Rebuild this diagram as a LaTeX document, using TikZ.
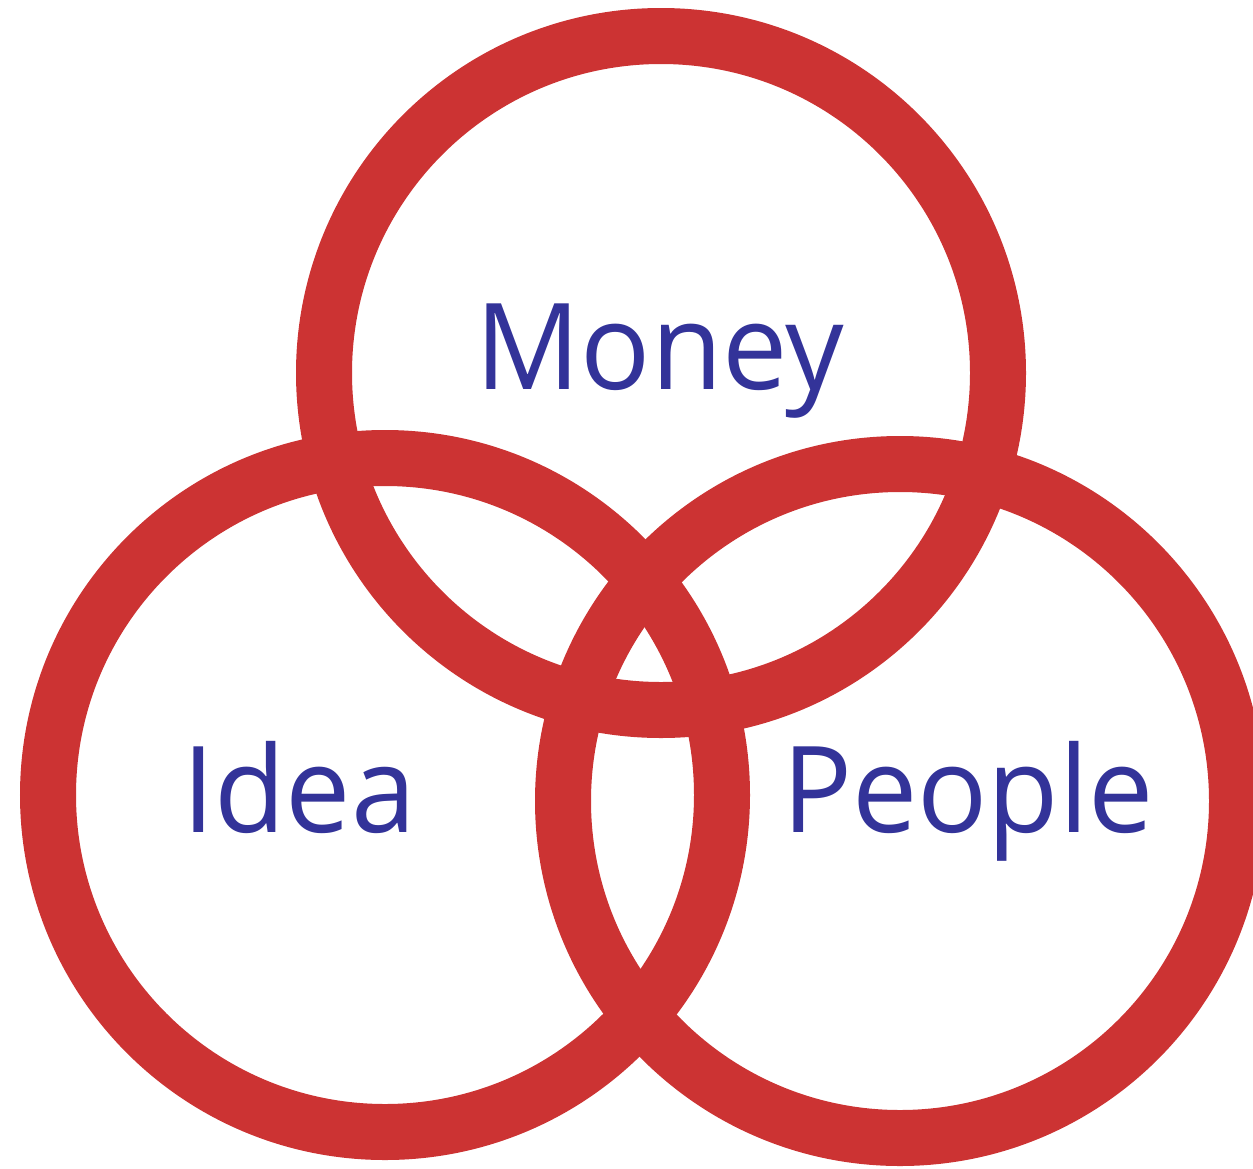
\documentclass[tikz,border=0pt]{standalone}
\usepackage{fontspec}
\setmainfont{Open Sans}
\usepackage{tikz}
\definecolor{ringred}{HTML}{CC3333}
\definecolor{wordblue}{HTML}{333399}
\tikzset{
  ring/.style={draw=ringred,line width=28pt},
  word/.style={text=wordblue,inner sep=0pt,anchor=base,xscale=0.97,
    font=\fontsize{60}{70}\selectfont}
}
\begin{document}
\begin{tikzpicture}[x=0.5pt,y=-0.5pt]
  \useasboundingbox (0,0) rectangle (1253,1168);

  % the three rings
  \draw [ring] (661,373) circle [radius=168.5pt];
  \draw [ring] (385,795) circle [radius=168.5pt];
  \draw [ring] (900,801) circle [radius=168.5pt];

  \node [word] (money) at (660,389) {Money};
  \node [word] (idea) at (299,832) {Idea};
  \node [word] (people) at (968,832) {People};
\end{tikzpicture}
\end{document}
